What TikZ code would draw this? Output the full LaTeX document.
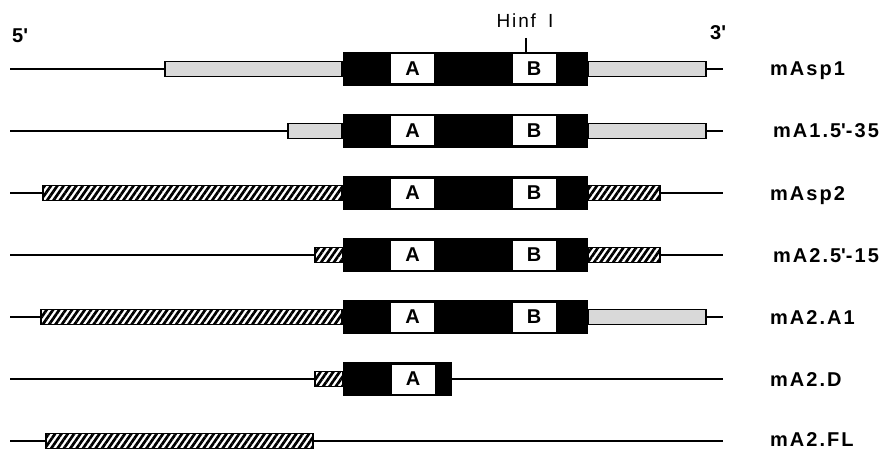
\documentclass[tikz,border=0pt]{standalone}
\usepackage{fontspec}
\setmainfont{Liberation Sans}[LetterSpace=10]
\usetikzlibrary{patterns.meta}

% one box of a construct: style, name, left x, right x, centre y
\newcommand\segbox[5]{%
  \node[#1, minimum width=#4pt-#3pt] (#2) at ({(#3+#4)/2},#5) {};}
% straight prime
\newcommand\pr{\textquotesingle}

\begin{document}
\begin{tikzpicture}[x=1pt,y=-1pt,
  dna/.style={line width=1.5pt},
  flank/.style={draw, line width=1.1pt, minimum height=14.5pt, inner sep=0pt, outer sep=0pt},
  stip/.style={flank, fill=black!15},
  hatch/.style={flank, pattern={Lines[angle=55,distance=5.2pt,line width=2.7pt]}},
  core/.style={fill=black, minimum height=34pt, inner sep=0pt, outer sep=0pt},
  motif/.style={fill=white, minimum width=43pt, minimum height=29pt, inner sep=0pt, font=\fontsize{20}{22}\selectfont\bfseries},
  tag/.style={anchor=base west, inner sep=0pt, font=\fontsize{20}{22}\selectfont\bfseries},
]
\useasboundingbox (0,0) rectangle (885,449);

% strand ends
\node[tag] (five) at (12,43) {5\pr};
\node[tag] (three) at (710,40) {3\pr};

% mAsp1
\coordinate (r1s) at (10,69);
\coordinate (r1e) at (723,69);
\segbox{stip}{r1a}{165}{342}{69}
\segbox{stip}{r1b}{588}{706}{69}
\segbox{core}{r1c}{343}{588}{69}
\node[motif] (r1A) at (412.5,69) {A};
\node[motif] (r1B) at (534,69) {B};
\draw[dna] (r1s) -- (r1a.west);
\draw[dna] (r1b.east) -- (r1e);
\node[tag] (n1) at (770,76) {mAsp1};

% Hinf I site
\coordinate (hinf) at (526,38);
\draw[line width=1.2pt] (hinf) -- (hinf |- r1c.north);
\node[anchor=base, inner sep=0pt, font=\fontsize{19}{21}\selectfont] (hinflbl) at (525,28) {Hinf\hspace{5pt} I};

% mA1.5'-35
\coordinate (r2s) at (10,131);
\coordinate (r2e) at (723,131);
\segbox{stip}{r2a}{288}{342}{131}
\segbox{stip}{r2b}{588}{706}{131}
\segbox{core}{r2c}{343}{588}{131}
\node[motif] (r2A) at (412.5,131) {A};
\node[motif] (r2B) at (534,131) {B};
\draw[dna] (r2s) -- (r2a.west);
\draw[dna] (r2b.east) -- (r2e);
\node[tag] (n2) at (773,138) {mA1.5\pr-35};

% mAsp2
\coordinate (r3s) at (10,193);
\coordinate (r3e) at (723,193);
\segbox{hatch}{r3a}{43}{342}{193}
\segbox{hatch}{r3b}{588}{660}{193}
\segbox{core}{r3c}{343}{588}{193}
\node[motif] (r3A) at (412.5,193) {A};
\node[motif] (r3B) at (534,193) {B};
\draw[dna] (r3s) -- (r3a.west);
\draw[dna] (r3b.east) -- (r3e);
\node[tag] (n3) at (770,200) {mAsp2};

% mA2.5'-15
\coordinate (r4s) at (10,255);
\coordinate (r4e) at (723,255);
\segbox{hatch}{r4a}{315}{343}{255}
\segbox{hatch}{r4b}{588}{660}{255}
\segbox{core}{r4c}{343}{588}{255}
\node[motif] (r4A) at (412.5,255) {A};
\node[motif] (r4B) at (534,255) {B};
\draw[dna] (r4s) -- (r4a.west);
\draw[dna] (r4b.east) -- (r4e);
\node[tag] (n4) at (773,262) {mA2.5\pr-15};

% mA2.A1
\coordinate (r5s) at (10,317);
\coordinate (r5e) at (723,317);
\segbox{hatch}{r5a}{41}{342}{317}
\segbox{stip}{r5b}{588}{706}{317}
\segbox{core}{r5c}{343}{588}{317}
\node[motif] (r5A) at (412.5,317) {A};
\node[motif] (r5B) at (534,317) {B};
\draw[dna] (r5s) -- (r5a.west);
\draw[dna] (r5b.east) -- (r5e);
\node[tag] (n5) at (770,324) {mA2.A1};

% mA2.D
\coordinate (r6s) at (10,379);
\coordinate (r6e) at (723,379);
\segbox{hatch}{r6a}{315}{343}{379}
\segbox{core}{r6c}{343}{452}{379}
\node[motif] (r6A) at (413,379) {A};
\draw[dna] (r6s) -- (r6a.west);
\draw[dna] (r6c.east) -- (r6e);
\node[tag] (n6) at (770,386) {mA2.D};

% mA2.FL
\coordinate (r7s) at (10,441);
\coordinate (r7e) at (723,441);
\segbox{hatch}{r7a}{46}{313}{441}
\draw[dna] (r7s) -- (r7a.west);
\draw[dna] (r7a.east) -- (r7e);
\node[tag] (n7) at (770,446.5) {mA2.FL};
\end{tikzpicture}
\end{document}
